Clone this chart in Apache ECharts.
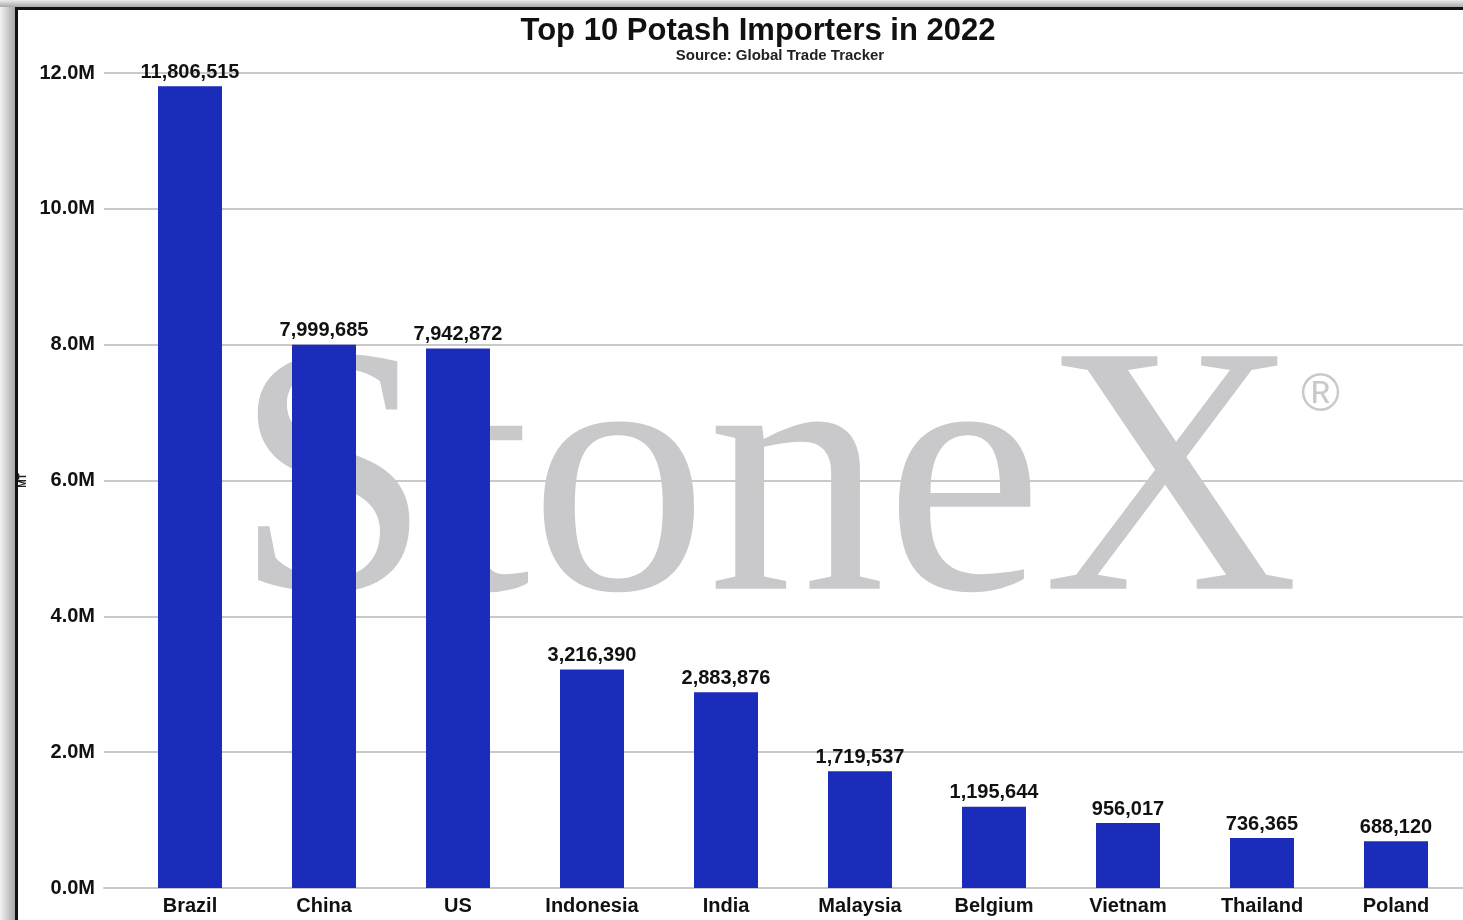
<!DOCTYPE html>
<html>
<head>
<meta charset="utf-8">
<title>Top 10 Potash Importers in 2022</title>
<script src="https://cdn.jsdelivr.net/npm/echarts@6/dist/echarts.min.js"></script>
<style>
    html, body { margin: 0; padding: 0; background: #fff; }
    #chart { width: 1463px; height: 920px; }
</style>
</head>
<body>
<div id="chart"></div>
<script>
// data
const countries = ['Brazil', 'China', 'US', 'Indonesia', 'India', 'Malaysia', 'Belgium', 'Vietnam', 'Thailand', 'Poland'];
const imports = [11806515, 7999685, 7942872, 3216390, 2883876, 1719537, 1195644, 956017, 736365, 688120];
const yTicks = [0, 2000000, 4000000, 6000000, 8000000, 10000000, 12000000];

const font = 'Liberation Sans, Arial, sans-serif';
const barColor = '#1b2cbb';
const gridColor = '#c9c9c9';

const chart = echarts.init(document.getElementById('chart'));

const option = {
    animation: false,
    backgroundColor: '#fff',
    title: [{
        text: 'Top 10 Potash Importers in 2022',
        left: 753,
        textAlign: 'center',
        top: 11,
        textStyle: { fontFamily: font, fontSize: 31, fontWeight: 'bold', color: '#111' }
    }, {
        text: 'Source: Global Trade Tracker',
        left: 775,
        textAlign: 'center',
        top: 43,
        textStyle: { fontFamily: font, fontSize: 15, fontWeight: 'bold', color: '#222' }
    }],
    graphic: [
        // watermark
        {
            type: 'text', z: -1, left: 234, top: 318,
            style: { text: 'StoneX', font: '355px "Liberation Serif", "Times New Roman", serif', fill: '#c9c9cb' }
        },
        {
            type: 'text', z: -1, left: 1301, top: 370,
            style: { text: '®', font: '53px "Liberation Sans", Arial, sans-serif', fill: '#c9c9cb' }
        },
        // frame on the left and top
        {
            type: 'rect', z: 100, shape: { x: 0, y: 0, width: 15, height: 920 },
            style: { fill: new echarts.graphic.LinearGradient(0, 0, 1, 0, [
                { offset: 0, color: '#f2f2f2' }, { offset: 1, color: '#a8a8a8' }]) }
        },
        {
            type: 'rect', z: 100, shape: { x: 0, y: 0, width: 1463, height: 7 },
            style: { fill: new echarts.graphic.LinearGradient(0, 0, 0, 1, [
                { offset: 0, color: '#ececec' }, { offset: 1, color: '#a8a8a8' }]) }
        },
        { type: 'rect', z: 101, shape: { x: 15, y: 7, width: 3, height: 913 }, style: { fill: '#111' } },
        { type: 'rect', z: 101, shape: { x: 15, y: 7, width: 1448, height: 3 }, style: { fill: '#111' } }
    ],
    grid: [
        { left: 104, right: 0, top: 73, bottom: 32 },
        { left: 123, right: 0, top: 73, bottom: 32 }
    ],
    xAxis: [{
        gridIndex: 0,
        type: 'value',
        min: 0, max: 1,
        axisLine: { show: true, lineStyle: { color: gridColor, width: 2 } },
        axisTick: { show: false },
        axisLabel: { show: false },
        splitLine: { show: false }
    }, {
        gridIndex: 1,
        type: 'category',
        data: countries,
        axisLine: { show: false },
        axisTick: { show: false },
        axisLabel: {
            margin: 8,
            fontFamily: font, fontSize: 20, fontWeight: 'bold', color: '#111'
        }
    }],
    yAxis: [{
        gridIndex: 0,
        type: 'value',
        min: yTicks[0],
        max: yTicks[yTicks.length - 1],
        interval: yTicks[1] - yTicks[0],
        name: 'MT',
        nameLocation: 'middle',
        nameRotate: 90,
        nameGap: 76,
        nameMoveOverlap: false,
        nameTextStyle: { fontFamily: font, fontSize: 10, fontWeight: 'bold', color: '#222' },
        axisLine: { show: false },
        axisTick: { show: false },
        axisLabel: {
            margin: 9,
            fontFamily: font, fontSize: 20, fontWeight: 'bold', color: '#111',
            formatter: v => (v / 1000000).toFixed(1) + 'M'
        },
        splitLine: { lineStyle: { color: gridColor, width: 2 } }
    }, {
        gridIndex: 1,
        type: 'value',
        min: yTicks[0],
        max: yTicks[yTicks.length - 1],
        show: false,
        splitLine: { show: false }
    }],
    series: [{
        type: 'bar',
        xAxisIndex: 1,
        yAxisIndex: 1,
        data: imports,
        barWidth: 64,
        itemStyle: { color: barColor },
        label: {
            show: true,
            position: 'top',
            distance: 4,
            fontFamily: font, fontSize: 20, fontWeight: 'bold', color: '#111',
            formatter: p => p.value.toLocaleString('en-US')
        }
    }]
};

chart.setOption(option);
</script>
</body>
</html>
